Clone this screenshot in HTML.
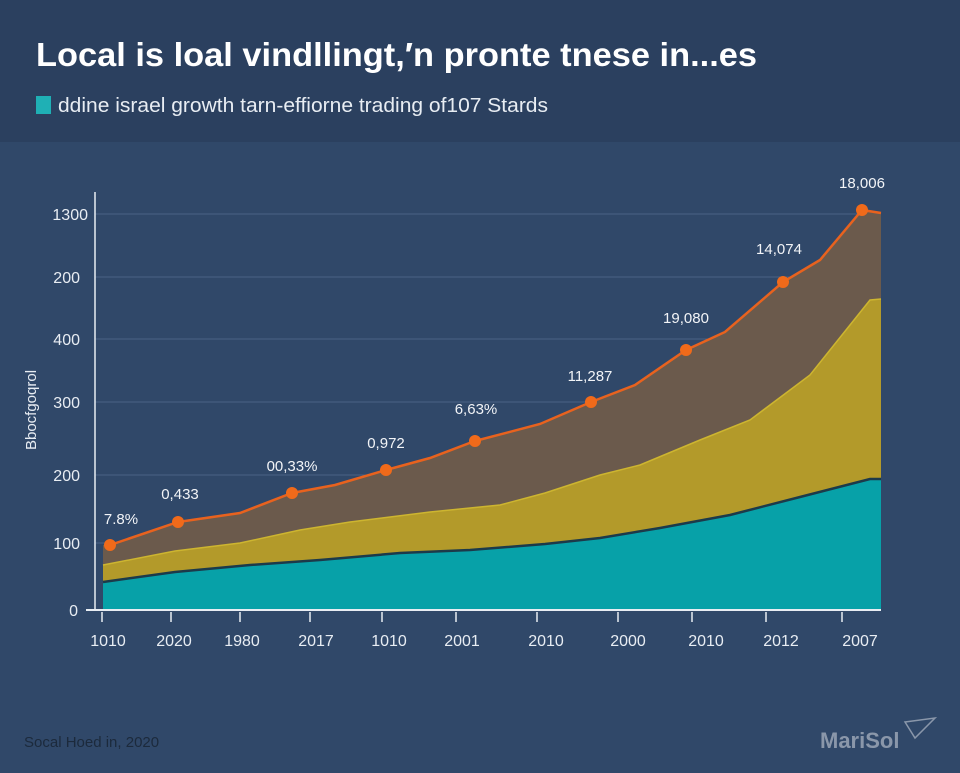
<!DOCTYPE html>
<html><head><meta charset="utf-8"><style>
body{margin:0;width:960px;height:768px;overflow:hidden;background:#304869;font-family:"Liberation Sans",sans-serif;}
</style></head><body>
<svg width="960" height="768" xmlns="http://www.w3.org/2000/svg" font-family="Liberation Sans, sans-serif">
<rect width="960" height="768" fill="#304869"/>
<rect width="960" height="142" fill="#2b405f"/>
<text x="36" y="66" font-size="33" font-weight="bold" fill="#fff" textLength="721" lengthAdjust="spacingAndGlyphs">Local is loal vindllingt,′n pronte tnese in...es</text>
<rect x="36" y="96" width="15" height="18" fill="#1fb0b5"/>
<text x="58" y="112" font-size="20" fill="#e8edf3" textLength="490" lengthAdjust="spacingAndGlyphs">ddine israel growth tarn-effiorne trading of107 Stards</text>
<g stroke="#4a6285" stroke-width="1">
<line x1="95" y1="214" x2="881" y2="214"/><line x1="95" y1="277" x2="881" y2="277"/>
<line x1="95" y1="339" x2="881" y2="339"/><line x1="95" y1="402" x2="881" y2="402"/>
<line x1="95" y1="475" x2="881" y2="475"/><line x1="95" y1="543" x2="881" y2="543"/>
</g>
<path d="M103,545 L110,545 L178,522 L240,513 L292,493 L335,485 L386,470 L430,458 L475,441 L540,424 L591,402 L635,385 L686,350 L725,332 L783,282 L820,260 L862,210 L881,213 L881,610 L103,610Z" fill="#6b5a4c"/>
<path d="M103,565 L175,551 L240,543 L300,530 L350,522 L430,512 L500,505 L545,493 L600,475 L640,465 L700,440 L750,420 L810,375 L870,300 L881,299 L881,610 L103,610Z" fill="#b39a2a"/>
<path d="M103,565 L175,551 L240,543 L300,530 L350,522 L430,512 L500,505 L545,493 L600,475 L640,465 L700,440 L750,420 L810,375 L870,300 L881,299" fill="none" stroke="#cdb530" stroke-width="1.5"/>
<path d="M103,582 L175,572 L250,565 L320,560 L400,553 L470,550 L545,544 L600,538 L660,528 L730,515 L800,497 L870,479 L881,479 L881,610 L103,610Z" fill="#07a1a8"/>
<path d="M103,582 L175,572 L250,565 L320,560 L400,553 L470,550 L545,544 L600,538 L660,528 L730,515 L800,497 L870,479 L881,479" fill="none" stroke="#1c3a4a" stroke-width="2.5"/>
<path d="M110,545 L178,522 L240,513 L292,493 L335,485 L386,470 L430,458 L475,441 L540,424 L591,402 L635,385 L686,350 L725,332 L783,282 L820,260 L862,210 L881,213" fill="none" stroke="#e8621e" stroke-width="2.5"/>
<g fill="#f06a1a">
<circle cx="110" cy="545" r="6"/><circle cx="178" cy="522" r="6"/><circle cx="292" cy="493" r="6"/>
<circle cx="386" cy="470" r="6"/><circle cx="475" cy="441" r="6"/><circle cx="591" cy="402" r="6"/>
<circle cx="686" cy="350" r="6"/><circle cx="783" cy="282" r="6"/><circle cx="862" cy="210" r="6"/>
</g>
<line x1="95" y1="192" x2="95" y2="610" stroke="#e8edf3" stroke-width="1.5"/>
<line x1="86" y1="610" x2="881" y2="610" stroke="#e8edf3" stroke-width="2"/>
<g stroke="#e8edf3" stroke-width="1.5">
<line x1="102" y1="612" x2="102" y2="622"/><line x1="171" y1="612" x2="171" y2="622"/><line x1="240" y1="612" x2="240" y2="622"/>
<line x1="310" y1="612" x2="310" y2="622"/><line x1="382" y1="612" x2="382" y2="622"/><line x1="456" y1="612" x2="456" y2="622"/>
<line x1="537" y1="612" x2="537" y2="622"/><line x1="618" y1="612" x2="618" y2="622"/><line x1="692" y1="612" x2="692" y2="622"/>
<line x1="766" y1="612" x2="766" y2="622"/><line x1="842" y1="612" x2="842" y2="622"/>
</g>
<g font-size="16" fill="#e8edf3" text-anchor="end">
<text x="88" y="220">1300</text><text x="80" y="283">200</text><text x="80" y="345">400</text>
<text x="80" y="408">300</text><text x="80" y="481">200</text><text x="80" y="549">100</text><text x="78" y="616">0</text>
</g>
<text transform="translate(36,410) rotate(-90)" font-size="15" fill="#e8edf3" text-anchor="middle">Bbocfgoqrol</text>
<g font-size="16" fill="#e8edf3" text-anchor="middle">
<text x="108" y="646">1010</text><text x="174" y="646">2020</text><text x="242" y="646">1980</text>
<text x="316" y="646">2017</text><text x="389" y="646">1010</text><text x="462" y="646">2001</text>
<text x="546" y="646">2010</text><text x="628" y="646">2000</text><text x="706" y="646">2010</text>
<text x="781" y="646">2012</text><text x="860" y="646">2007</text>
</g>
<g font-size="15" fill="#f2f4f7" text-anchor="middle">
<text x="121" y="524">7.8%</text><text x="180" y="499">0,433</text><text x="292" y="471">00,33%</text>
<text x="386" y="448">0,972</text><text x="476" y="414">6,63%</text><text x="590" y="381">11,287</text>
<text x="686" y="323">19,080</text><text x="779" y="254">14,074</text><text x="862" y="188">18,006</text>
</g>
<text x="24" y="747" font-size="15" fill="#1c2a3c">Socal Hoed in, 2020</text>
<text x="820" y="748" font-size="22" font-weight="bold" fill="#8a97aa">MariSol</text>
<path d="M905,722 L935,718 L915,738Z" fill="none" stroke="#8a97aa" stroke-width="1.5"/>
</svg>
</body></html>
